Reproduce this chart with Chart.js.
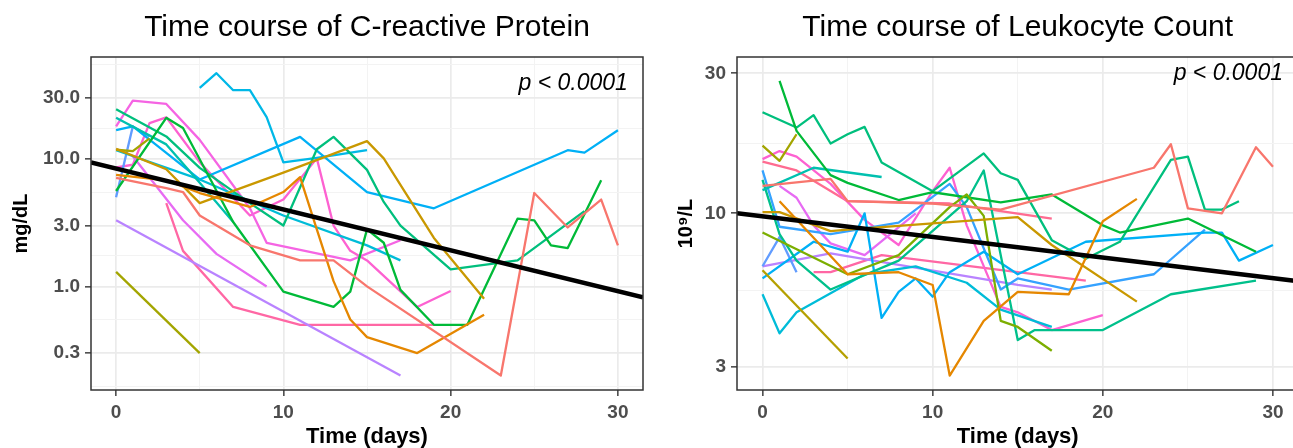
<!DOCTYPE html>
<html>
<head>
<meta charset="utf-8">
<title>Time course of CRP and leukocytes</title>
<script src="https://cdn.jsdelivr.net/npm/chart.js@4.4.1/dist/chart.umd.min.js"></script>
<style>
  html, body { margin: 0; padding: 0; background: #fff; overflow: hidden; width: 1293px; height: 448px; }
  canvas { position: absolute; top: 0; }
  #crpChart { left: 0; }
  #wbcChart { left: 650px; }
</style>
</head>
<body>
<canvas id="crpChart" width="650" height="448"></canvas>
<canvas id="wbcChart" width="660" height="448"></canvas>
<script>
// axis breaks
const dayTicks = [0, 10, 20, 30];
const dayMinor = [5, 15, 25];
const crpTicks = [0.3, 1, 3, 10, 30];
const crpTickLabels = ['0.3', '1.0', '3.0', '10.0', '30.0'];
const wbcTicks = [3, 10, 30];
const wbcTickLabels = ['3', '10', '30'];

// C-reactive protein, one array per patient: [day, mg/dL]
const crp01 = [[0, 7.1], [3, 5.9], [4, 5.5], [5, 3.6], [8, 2.1], [11, 1.6], [13, 1.6], [15, 1.0], [23, 0.2], [25, 5.4], [27, 2.9], [29, 4.8], [30, 2.1]];
const crp02 = [[0, 7.5], [3, 6.8], [5, 5.4], [8, 4.2], [10, 5.5], [11, 7.2], [12, 2.8], [13, 1.1], [14, 0.55], [15, 0.40], [18, 0.30], [22, 0.60]];
const crp03 = [[0, 12.0], [3, 8.3], [5, 4.5], [10, 7.8], [15, 13.8], [16, 10.1], [19, 2.4], [22, 0.8]];
const crp04 = [[0, 1.3], [5, 0.3]];
const crp05 = [[0, 11.8], [1, 11.5], [2, 14.5]];
const crp06 = [[0, 5.6], [3, 21], [4, 17.5], [7, 3.2], [10, 0.91], [13, 0.69], [14, 0.91], [15, 2.8], [16, 2.2], [17, 0.94], [19, 0.5], [21, 0.5], [24, 3.4], [25, 3.3], [26, 2.1], [27, 2.0], [29, 6.8]];
const crp07 = [[0, 24.5], [3, 15], [5, 8.5], [8, 4.5], [10, 3.0], [12, 11.9], [13, 14.9], [15, 8.2], [16, 4.6], [17, 3.0], [20, 1.36], [24, 1.6], [28, 3.9]];
const crp08 = [[0, 21], [3, 13], [5, 6.5], [7, 3.2]];
const crp09 = [[0, 11.7], [5, 6.9], [10, 3.6], [15, 2.1], [17, 1.6]];
const crp10 = [[0, 16.8], [1, 18], [5, 6.9], [11, 14.9], [15, 5.5], [19, 4.1], [27, 11.7], [28, 11.2], [30, 16.8]];
const crp11 = [[5, 36], [6, 47], [7, 34.6], [8, 34.6], [9, 21.3], [10, 9.4], [12, 10.2], [15, 11.7]];
const crp12 = [[0, 5.0], [1, 18], [2, 15]];
const crp13 = [[0, 3.3], [17, 0.2]];
const crp14 = [[1, 10.5], [4, 3.3], [6, 1.8], [9, 1.0]];
const crp15 = [[0, 18], [1, 28.6], [3, 27], [5, 14.1], [8, 4.1], [9, 2.2], [14, 1.6], [17, 2.3]];
const crp16 = [[0, 8.6], [1, 9.0], [2, 19.1], [3, 21.2], [5, 9.4], [8, 3.6], [10, 4.8], [12, 10.1], [13, 3.0], [14, 1.9], [15, 1.6], [18, 0.69], [20, 0.92]];
const crp17 = [[3, 4.5], [4, 1.9], [7, 0.69], [11, 0.5], [15, 0.5], [19, 0.5]];
const crpFit = [[-1.5, 9.4], [31.5, 0.82]];

// Leukocyte count, one array per patient: [day, 10^9/L]
const wbc01 = [[0, 12.4], [4, 13.1], [5, 11.0], [10, 10.8], [14, 10.3], [23, 14.3], [24, 17.2], [25, 10.4], [27, 10.0], [29, 16.8], [30, 14.4]];
const wbc02 = [[1, 11.0], [5, 6.2], [8, 6.3], [10, 5.7], [11, 2.8], [13, 4.3], [15, 5.4], [18, 5.3], [20, 9.4], [22, 11.2]];
const wbc03 = [[0, 10.1], [1, 10.1], [4, 8.7], [5, 8.8], [15, 9.7], [17, 7.8], [22, 5.0]];
const wbc04 = [[0, 17.0], [1, 15.1], [2, 18.6]];
const wbc05 = [[0, 6.4], [5, 3.2]];
const wbc06 = [[0, 8.6], [5, 6.2], [8, 7.2], [11, 10.5], [12, 11.6], [13, 9.8], [14, 4.3], [15, 4.1], [17, 3.4]];
const wbc07 = [[1, 28.3], [2, 19.1], [4, 13.5], [5, 12.7], [8, 11.1], [10, 11.8], [14, 10.9], [17, 11.6], [20, 9.1], [21, 8.6], [25, 9.6], [29, 7.4]];
const wbc08 = [[0, 22.1], [2, 19.6], [3, 21.6], [4, 17.3], [5, 18.6], [6, 19.7], [7, 14.9], [10, 11.9], [13, 16.0], [14, 13.7], [15, 13.0], [17, 8.1], [19, 7.0], [21, 8.0], [24, 15.2], [25, 15.6], [26, 10.3], [27, 10.3], [28, 11.0]];
const wbc09 = [[0, 12.0], [3, 14.3], [7, 13.3]];
const wbc10 = [[0, 13], [1, 8.5], [2, 6.9], [4, 5.5], [8, 6.9], [12, 11], [13, 14], [15, 3.7], [16, 4.0], [20, 4.0], [24, 5.3], [29, 5.9]];
const wbc11 = [[0, 5.3], [1, 3.9], [2, 4.6], [6, 6.2], [9, 6.6], [12, 5.8], [14, 4.7], [17, 4.1]];
const wbc12 = [[0, 6.0], [3, 8.0], [5, 7.4], [6, 10.0], [7, 4.4], [8, 5.4], [9, 6.0], [10, 5.2], [11, 6.3], [13, 7.4], [15, 6.2], [19, 8.0], [26, 8.6], [27, 8.6], [28, 6.9], [30, 7.8]];
const wbc13 = [[0, 14.0], [1, 9.0], [4, 8.5], [8, 9.3], [11, 12.6], [12, 10.5], [14, 5.5], [15, 6.0], [18, 5.5], [23, 6.2], [26, 8.8]];
const wbc14 = [[0, 6.6], [1, 8.3], [2, 6.3]];
const wbc15 = [[0, 6.6], [4, 7.3], [15, 5.7], [17, 5.5]];
const wbc16 = [[1, 12.4], [2, 11.3], [3, 9.1], [4, 7.9], [6, 7.2], [9, 10.0]];
const wbc17 = [[0, 15.3], [1, 16.3], [2, 15.6], [4, 12.6], [6, 9.5], [8, 7.8], [10, 11.9], [11, 14.3], [12, 9.1], [14, 4.8], [15, 4.6], [17, 4.0], [20, 4.5]];
const wbc18 = [[3, 6.3], [4, 6.3], [7, 7.2], [15, 6.3], [19, 5.9]];
const wbc19 = [[0, 15], [2, 14], [5, 11], [11, 10.8], [17, 9.6]];
const wbcFit = [[-1.5, 10.0], [31.5, 5.87]];

const crpSeries = [crp01, crp02, crp03, crp04, crp05, crp06, crp07, crp08, crp09, crp10, crp11, crp12, crp13, crp14, crp15, crp16, crp17];
const crpColors = ['#F8766D', '#E58700', '#C99800', '#A3A500', '#A3A500', '#00BA38', '#00BF7D', '#00C0AF', '#00BCD8', '#00B0F6', '#00B8E7', '#619CFF', '#B983FF', '#E76BF3', '#F564E3', '#FD61D1', '#FF67A4'];
const wbcSeries = [wbc01, wbc02, wbc03, wbc04, wbc05, wbc06, wbc07, wbc08, wbc09, wbc10, wbc11, wbc12, wbc13, wbc14, wbc15, wbc16, wbc17, wbc18, wbc19];
const wbcColors = ['#F8766D', '#E58700', '#C99800', '#A3A500', '#B5A000', '#7CAE00', '#00BA38', '#00BF7D', '#00C0AF', '#00C08B', '#00BCD8', '#00B0F6', '#35A2FF', '#619CFF', '#B983FF', '#E76BF3', '#FD61D1', '#FF67A4', '#FF6C91'];

Chart.defaults.font.family = '"Liberation Sans", Arial, Helvetica, sans-serif';

function toPoints(s) {
  return s.map(p => ({ x: p[0], y: p[1] }));
}

// ggplot-style minor breaks: midpoints (in log space) between majors, extended one step each side
function logMinors(majors, lo, hi) {
  const b = majors.map(Math.log10);
  const bd = b[1] - b[0];
  const ext = [b[0] - bd, ...b, b[b.length - 1] + bd];
  const out = [];
  for (let i = 0; i < ext.length - 1; i++) out.push(Math.pow(10, (ext[i] + ext[i + 1]) / 2));
  return out.filter(v => v > lo && v < hi);
}

// frame round the panel and the p value
const panelDecor = {
  id: 'panelDecor',
  afterDatasetsDraw(chart, args, opts) {
    const { ctx, chartArea: a, scales } = chart;
    ctx.save();
    ctx.strokeStyle = '#333333';
    ctx.lineWidth = 1.5;
    ctx.strokeRect(a.left, a.top, a.right - a.left, a.bottom - a.top);
    ctx.font = 'italic 23px "Liberation Sans", Arial, sans-serif';
    ctx.fillStyle = '#000';
    ctx.textAlign = 'right';
    ctx.textBaseline = 'alphabetic';
    ctx.fillText(opts.text, scales.x.getPixelForValue(30) + 10, a.top + opts.dy);
    ctx.restore();
  }
};

function gridFor(majors) {
  const isMajor = c => c.tick && majors.includes(c.tick.value);
  return {
    color: c => isMajor(c) ? '#EBEBEB' : '#F3F3F3',
    lineWidth: c => isMajor(c) ? 1.7 : 1,
    tickLength: 6,
    tickWidth: 1.4,
    tickColor: c => isMajor(c) ? '#333333' : 'rgba(0,0,0,0)'
  };
}

function buildPanel(id, p) {
  const datasets = p.series.map((s, i) => ({
    data: toPoints(s),
    borderColor: p.colors[i],
    borderWidth: 2.3,
    pointRadius: 0,
    borderJoinStyle: 'round',
    order: 1
  }));
  datasets.push({ data: toPoints(p.fit), borderColor: '#000', borderWidth: 4.5, pointRadius: 0, order: 0 });

  const yMinor = logMinors(p.yTicks, p.yMin, p.yMax);
  const yLabels = new Map(p.yTicks.map((v, i) => [v, p.yLabels[i]]));

  return new Chart(document.getElementById(id), {
    type: 'line',
    data: { datasets },
    options: {
      responsive: false,
      animation: false,
      devicePixelRatio: 1,
      layout: { padding: { left: 0, right: p.padRight, top: 0, bottom: 0 } },
      plugins: {
        legend: { display: false },
        tooltip: { enabled: false },
        title: {
          display: true,
          text: p.title,
          fullSize: false,
          color: '#000',
          font: { size: 30, weight: 'normal' },
          padding: { top: 10, bottom: 11 }
        },
        panelDecor: { text: 'p < 0.0001', dy: p.pY }
      },
      scales: {
        x: {
          type: 'linear',
          bounds: 'data',
          min: -1.5,
          max: 31.5,
          afterBuildTicks: s => {
            s.ticks = [...dayTicks, ...dayMinor].sort((a, b) => a - b).map(v => ({ value: v }));
          },
          afterFit: s => { s.height = 58; },
          border: { display: false },
          grid: gridFor(dayTicks),
          ticks: {
            autoSkip: false,
            maxRotation: 0,
            padding: 5,
            color: '#4D4D4D',
            font: { size: 19, weight: 'bold' },
            callback: v => dayTicks.includes(v) ? String(v) : ''
          },
          title: {
            display: true,
            text: 'Time (days)',
            color: '#000',
            font: { size: 22, weight: 'bold', lineHeight: 1 },
            padding: { top: 0, bottom: 0 }
          }
        },
        y: {
          type: 'logarithmic',
          bounds: 'data',
          min: p.yMin,
          max: p.yMax,
          afterBuildTicks: s => {
            s.ticks = [...p.yTicks, ...yMinor].sort((a, b) => a - b).map(v => ({ value: v }));
          },
          afterFit: s => { s.width = p.yWidth; },
          border: { display: false },
          grid: gridFor(p.yTicks),
          ticks: {
            autoSkip: false,
            padding: 5,
            color: '#4D4D4D',
            font: { size: 19, weight: 'bold' },
            callback: v => yLabels.has(v) ? yLabels.get(v) : ''
          },
          title: {
            display: true,
            text: p.yTitle,
            color: '#000',
            font: { size: 20, weight: 'bold', lineHeight: 1 },
            padding: { top: p.yTitlePad, bottom: 0 }
          }
        }
      }
    },
    plugins: [panelDecor]
  });
}

buildPanel('crpChart', {
  title: 'Time course of C-reactive Protein',
  yTitle: 'mg/dL',
  series: crpSeries,
  colors: crpColors,
  fit: crpFit,
  yTicks: crpTicks,
  yLabels: crpTickLabels,
  yMin: 0.154,
  yMax: 63,
  yWidth: 91,
  yTitlePad: 11,
  padRight: 7,
  pY: 33
});

buildPanel('wbcChart', {
  title: 'Time course of Leukocyte Count',
  yTitle: '10\u2079/L',
  series: wbcSeries,
  colors: wbcColors,
  fit: wbcFit,
  yTicks: wbcTicks,
  yLabels: wbcTickLabels,
  yMin: 2.5,
  yMax: 34.1,
  yWidth: 87,
  yTitlePad: 26,
  padRight: 11.5,
  pY: 23
});
</script>
</body>
</html>
